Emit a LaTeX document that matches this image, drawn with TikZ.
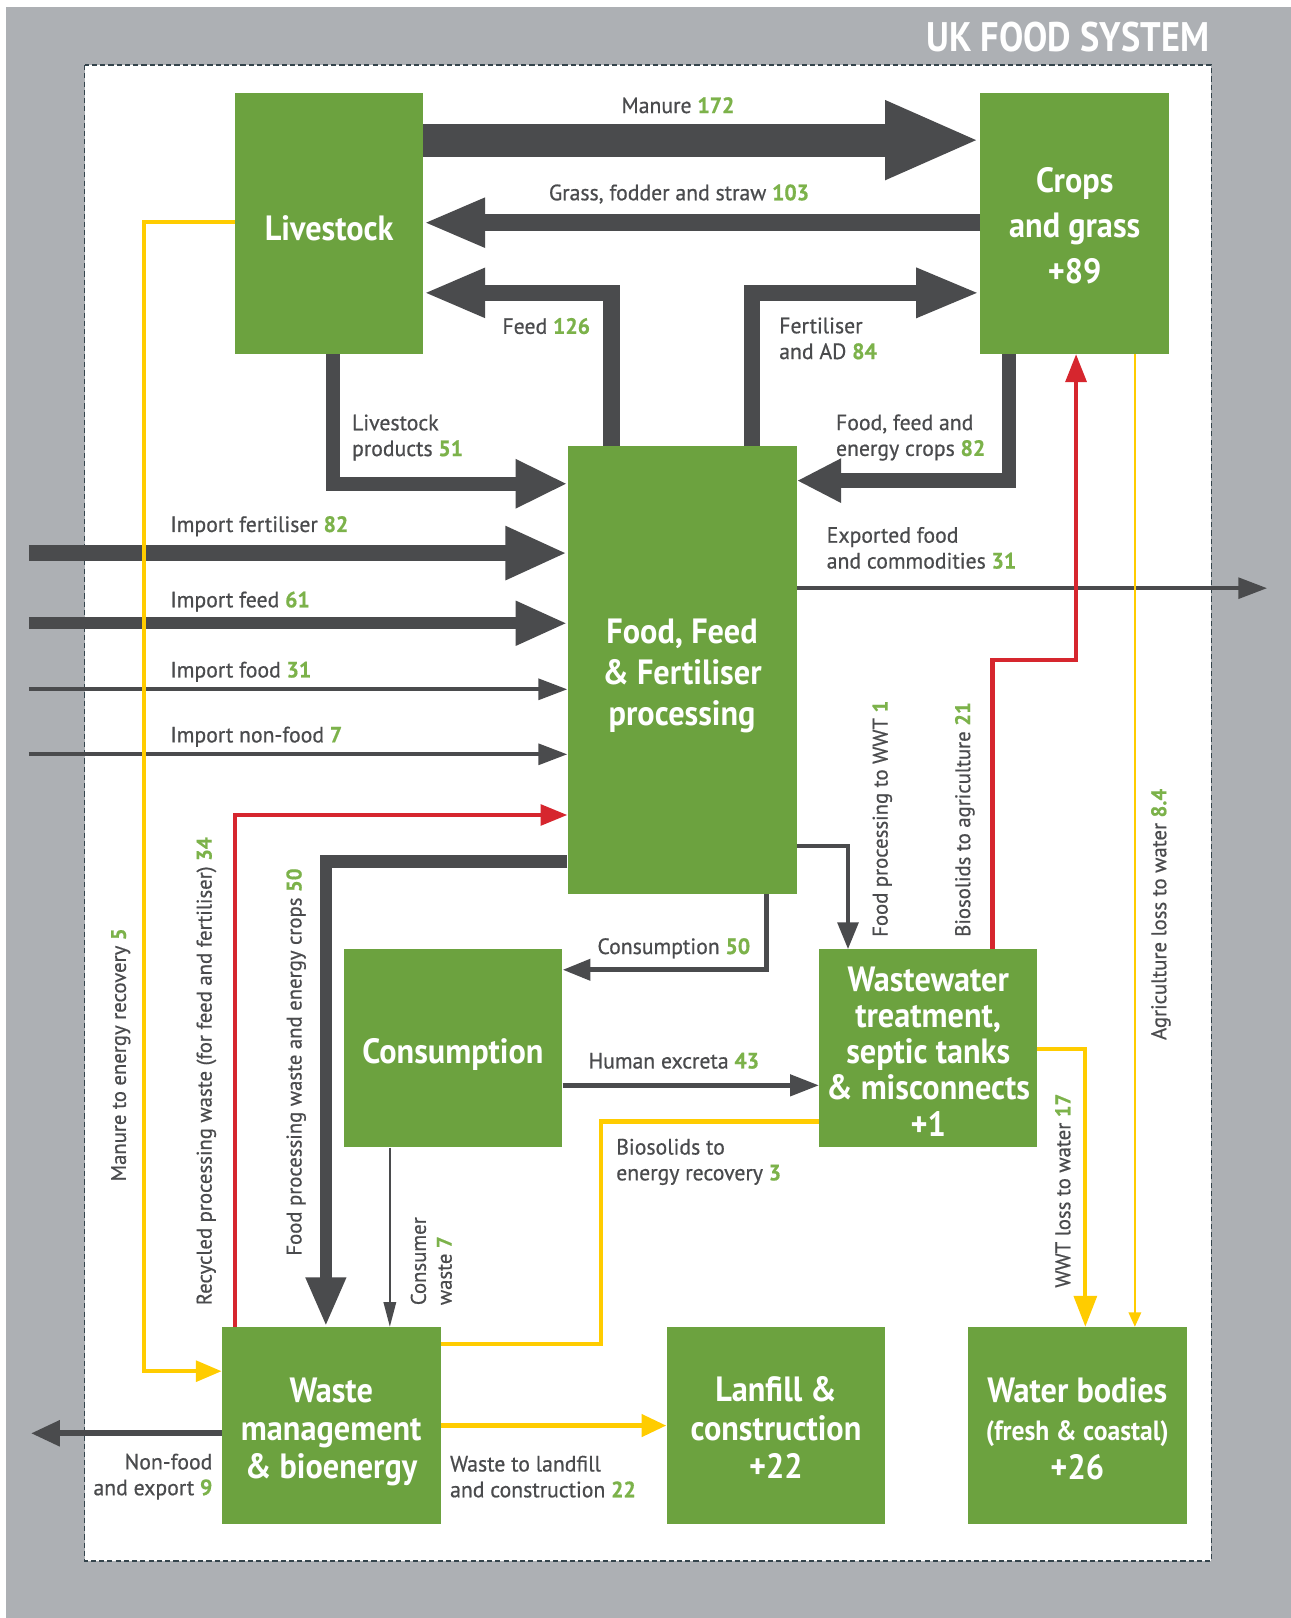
\documentclass[tikz,border=0pt]{standalone}
\usepackage{fontspec}
\setmainfont{PT Sans}[FakeStretch=0.92]
\newfontfamily\lblfont{PT Sans}[FakeStretch=0.98, FakeBold=0.6]
\newfontfamily\ttlfont{PT Sans}[FakeStretch=0.88]
\usepackage{tikz}
\usetikzlibrary{arrows.meta,calc}

\definecolor{boxgreen}{RGB}{108,162,63}
\definecolor{numgreen}{RGB}{124,178,74}
\definecolor{flowgray}{RGB}{74,75,77}
\definecolor{flowyellow}{RGB}{255,204,0}
\definecolor{flowred}{RGB}{214,38,46}
\definecolor{bggray}{RGB}{173,176,180}
\definecolor{framegray}{RGB}{52,68,76}

\newcommand{\num}[1]{\textcolor{numgreen}{\bfseries #1}}

\tikzset{
  box/.style={fill=boxgreen, inner sep=0pt},
  btxt/.style={text=white, align=center, inner sep=0pt, yshift=-4pt,
    font=\bfseries\fontsize{34}{44}\selectfont},
  lbl/.style={text=flowgray, inner sep=0pt, align=left,
    font=\lblfont\fontsize{21.5}{25}\selectfont},
  vlbl/.style={lbl, anchor=west, rotate=90,
    font=\lblfont\fontsize{20.5}{25}\selectfont},
  flow/.style={draw=flowgray, line width=#1},
  tip/.style 2 args={-{Triangle[length=#1,width=#2]}}
}

\begin{document}
\begin{tikzpicture}[x=1pt,y=-1pt]
\useasboundingbox (0,0) rectangle (1251,1568);
\fill[bggray] (6,7) rectangle (1251,1568);
\draw[framegray, fill=white, line width=1.5pt, dash pattern=on 5pt off 3pt] (82,63) rectangle (1174,1513);
\node[anchor=east, inner sep=0pt, text=white, font=\ttlfont\bfseries\fontsize{40}{40}\selectfont] (title) at (1172,36) {UK FOOD SYSTEM};

% boxes
\node[box, minimum width=182pt, minimum height=253pt, label={[btxt, yshift=-1pt]center:Livestock}] (live) at (319,216.5) {};
\node[box, minimum width=183pt, minimum height=253pt, label={[btxt, yshift=2pt]center:{Crops\\and grass\\+89}}] (crops) at (1041.5,216.5) {};
\node[box, minimum width=222pt, minimum height=434pt, label={[btxt, yshift=-2pt, font=\bfseries\fontsize{34}{40}\selectfont]center:{Food, Feed\\\& Fertiliser\\processing}}] (proc) at (661,649) {};
\node[box, minimum width=212pt, minimum height=192pt, label={[btxt, yshift=-2pt]center:Consumption}] (cons) at (439,1016) {};
\node[box, minimum width=211pt, minimum height=192pt, label={[btxt, yshift=1pt, font=\bfseries\fontsize{34}{35}\selectfont]center:{Wastewater\\treatment,\\septic tanks\\\& misconnects\\+1}}] (wwt) at (899.5,1016) {};
\node[box, minimum width=212pt, minimum height=191pt, label={[btxt, yshift=-2pt, font=\bfseries\fontsize{34}{37}\selectfont]center:{Waste\\management\\\& bioenergy}}] (waste) at (321,1381.5) {};
\node[box, minimum width=212pt, minimum height=191pt, label={[btxt, yshift=2pt, font=\bfseries\fontsize{34}{37}\selectfont]center:{Lanfill \&\\construction\\+22}}] (land) at (752,1381.5) {};
\node[box, minimum width=212pt, minimum height=191pt, label={[btxt, yshift=1pt, font=\bfseries\fontsize{34}{37}\selectfont]center:{Water bodies\\{\fontsize{27}{37}\selectfont(fresh \& coastal)}\\+26}}] (water) at (1044,1381.5) {};

% outer ends
\coordinate (inA) at (28,536);
\coordinate (inB) at (28,604);
\coordinate (inC) at (28,668);
\coordinate (inD) at (28,731);
\coordinate (expo) at (1228,570);
\coordinate (nonfood) at (30,1389);

% dark flows
\draw[flow=32pt, tip={92pt}{70pt}] ($(live.north east)+(0,46)$) -- ($(crops.north west)+(0,46)$);
\draw[flow=16pt, tip={60pt}{44pt}] ($(crops.north west)+(0,126)$) -- ($(live.north east)+(0,126)$);
\draw[flow=16pt, tip={60pt}{44pt}] ($(proc.north west)+(43,0)$) |- ($(live.north east)+(0,194)$);
\draw[flow=16pt, tip={62pt}{44pt}] ($(proc.north west)+(179,0)$) |- ($(crops.north west)+(0,194)$);
\draw[flow=14pt, tip={50pt}{44pt}] ($(live.south west)+(95,0)$) |- ($(proc.north west)+(0,37)$);
\draw[flow=14pt, tip={43pt}{40pt}] ($(crops.south west)+(28,0)$) |- ($(proc.north east)+(0,34)$);
\draw[flow=16pt, tip={60pt}{48pt}] (inA) -- (inA -| proc.west);
\draw[flow=12pt, tip={50pt}{40pt}] (inB) -- (inB -| proc.west);
\draw[flow=4pt, tip={28pt}{20pt}] (inC) -- (inC -| proc.west);
\draw[flow=4pt, tip={28pt}{20pt}] (inD) -- (inD -| proc.west);
\draw[flow=4pt, tip={28pt}{20pt}] (expo -| proc.east) -- (expo);
\draw[flow=4pt, tip={26pt}{20pt}] ($(proc.north east)+(0,388)$) -| ($(wwt.north west)+(28,0)$);
\draw[flow=12pt, tip={48pt}{36pt}] ($(proc.north west)+(0,403)$) -| ($(waste.north west)+(101,0)$);
\draw[flow=5pt, tip={27pt}{20pt}] ($(proc.south west)+(193,0)$) |- ($(cons.north east)+(0,20)$);
\draw[flow=5pt, tip={28pt}{20pt}] ($(cons.north east)+(0,132)$) -- ($(wwt.north west)+(0,132)$);
\draw[flow=2pt, tip={24pt}{12pt}] ($(cons.south west)+(45,0)$) -- ($(waste.north west)+(163,0)$);
\draw[flow=6pt, tip={28pt}{24pt}] (waste.west |- nonfood) -- (nonfood);

% red flows
\draw[draw=flowred, line width=4pt, tip={27pt}{20pt}] ($(wwt.north west)+(168,0)$) -- ++(0,-280) -| ($(crops.south west)+(93,0)$);
\draw[draw=flowred, line width=4pt, tip={26pt}{20pt}] ($(waste.north west)+(13,0)$) |- ($(proc.north west)+(0,358)$);

% yellow flows
\draw[draw=flowyellow, line width=2pt, tip={14pt}{12pt}] ($(crops.south west)+(150,0)$) -- ($(water.north west)+(162,0)$);
\draw[draw=flowyellow, line width=4pt, tip={25pt}{20pt}] ($(live.north west)+(0,125)$) -- ++(-88,0) |- ($(waste.north west)+(0,43)$);
\draw[draw=flowyellow, line width=4pt] ($(wwt.north west)+(0,167)$) -- ++(-211,0) |- ($(waste.north east)+(0,17)$);
\draw[draw=flowyellow, line width=4pt, tip={30pt}{22pt}] ($(wwt.north east)+(0,97)$) -| ($(water.north west)+(114,0)$);
\draw[draw=flowyellow, line width=5pt, tip={24pt}{21pt}] (waste.east) -- (land.west);

% labels
\node[lbl] (lmanure) at (657,102) {Manure \num{172}};
\node[lbl] (lgrass) at (658,188) {Grass, fodder and straw \num{103}};
\node[lbl, anchor=east] (lfeed) at (572,316) {Feed \num{126}};
\node[lbl, anchor=west] (lfert) at (755,328) {Fertiliser\\and AD \num{84}};
\node[lbl, anchor=west] (lprod) at (341,424) {Livestock\\products \num{51}};
\node[lbl, anchor=west] (lcrops) at (810,424) {Food, feed and\\energy crops \num{82}};
\node[lbl, anchor=west] (limpA) at (165,510) {Import fertiliser \num{82}};
\node[lbl, anchor=west] (limpB) at (165,583) {Import feed \num{61}};
\node[lbl, anchor=west] (limpC) at (165,651) {Import food \num{31}};
\node[lbl, anchor=west] (limpD) at (165,714) {Import non-food \num{7}};
\node[lbl, anchor=west] (lexp) at (801,531) {Exported food\\and commodities \num{31}};
\node[vlbl] (ltowwt) at (855,908) {Food processing to WWT \num{1}};
\node[vlbl] (lbioag) at (935,908) {Biosolids to agriculture \num{21}};
\node[vlbl] (lagri) at (1125,1008) {Agriculture loss to water \num{8.4}};
\node[vlbl] (lmanen) at (117,1145) {Manure to energy recovery \num{5}};
\node[vlbl] (lrecyc) at (200,1265) {Recycled processing waste (for feed and fertiliser) \num{34}};
\node[vlbl] (lfpw) at (287,1217) {Food processing waste and energy crops \num{50}};
\node[vlbl] (lcw) at (418,1265) {Consumer\\waste \num{7}};
\node[vlbl] (lwwtl) at (1030,1248) {WWT loss to water \num{17}};
\node[lbl] (lcons) at (653,919) {Consumption \num{50}};
\node[lbl] (lexc) at (653,1028) {Human excreta \num{43}};
\node[lbl, anchor=west] (lbioen) at (597,1126) {Biosolids to\\energy recovery \num{3}};
\node[lbl, anchor=east, align=right] (lnonf) at (206,1431) {Non-food\\and export \num{9}};
\node[lbl, anchor=west] (lland) at (436,1431) {Waste to landfill\\and construction \num{22}};
\end{tikzpicture}
\end{document}
